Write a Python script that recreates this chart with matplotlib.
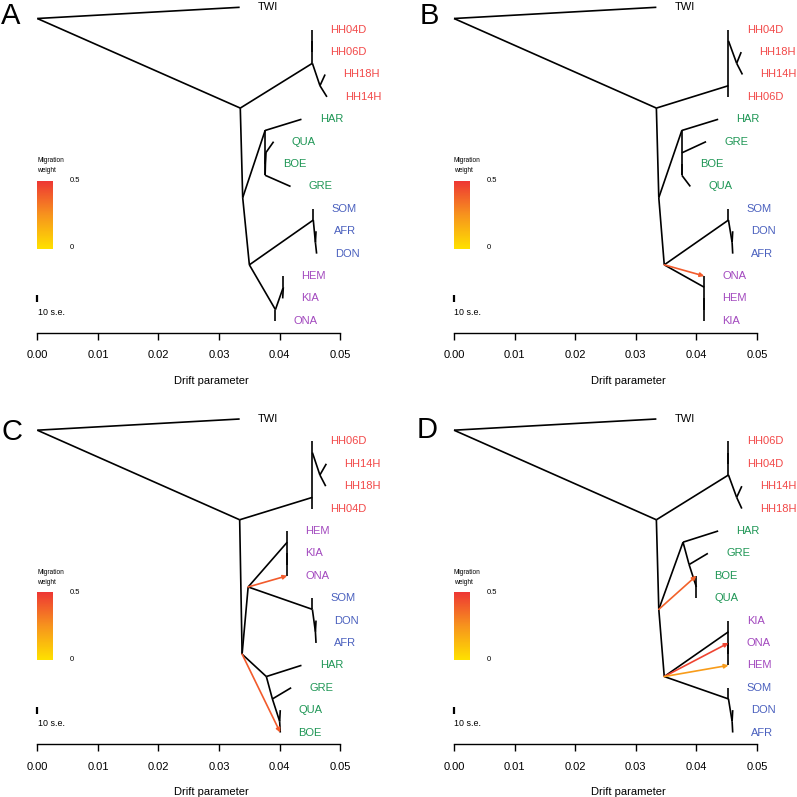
import numpy as np
import matplotlib.pyplot as plt
from matplotlib.colors import LinearSegmentedColormap

plt.rcParams['font.family'] = ['Liberation Sans', 'DejaVu Sans']

# leaf order, top to bottom
leaves_a = ['TWI', 'HH04D', 'HH06D', 'HH18H', 'HH14H', 'HAR', 'QUA', 'BOE', 'GRE',
            'SOM', 'AFR', 'DON', 'HEM', 'KIA', 'ONA']
leaves_b = ['TWI', 'HH04D', 'HH18H', 'HH14H', 'HH06D', 'HAR', 'GRE', 'BOE', 'QUA',
            'SOM', 'DON', 'AFR', 'ONA', 'HEM', 'KIA']
leaves_c = ['TWI', 'HH06D', 'HH14H', 'HH18H', 'HH04D', 'HEM', 'KIA', 'ONA', 'SOM',
            'DON', 'AFR', 'HAR', 'GRE', 'QUA', 'BOE']
leaves_d = ['TWI', 'HH06D', 'HH04D', 'HH14H', 'HH18H', 'HAR', 'GRE', 'BOE', 'QUA',
            'KIA', 'ONA', 'HEM', 'SOM', 'DON', 'AFR']

# (node, parent, drift from root)
tree_a = [('r', None, 0.0), ('TWI', 'r', 0.0334), ('n1', 'r', 0.0335),
          ('hh', 'n1', 0.0454), ('hha', 'hh', 0.0454), ('HH04D', 'hha', 0.0454),
          ('HH06D', 'hha', 0.0454), ('hhb', 'hh', 0.04665), ('HH18H', 'hhb', 0.0475),
          ('HH14H', 'hhb', 0.0478), ('n2', 'n1', 0.0339), ('g', 'n2', 0.0376),
          ('HAR', 'g', 0.0436), ('g2', 'g', 0.0376), ('g3', 'g2', 0.0377),
          ('QUA', 'g3', 0.0390), ('BOE', 'g3', 0.0376), ('GRE', 'g2', 0.0418),
          ('n3', 'n2', 0.0350), ('b', 'n3', 0.04555), ('SOM', 'b', 0.04555),
          ('b2', 'b', 0.0459), ('AFR', 'b2', 0.0460), ('DON', 'b2', 0.0461),
          ('p', 'n3', 0.0393), ('p2', 'p', 0.0406), ('HEM', 'p2', 0.0406),
          ('KIA', 'p2', 0.0405), ('ONA', 'p', 0.0393)]
tree_b = [('r', None, 0.0), ('TWI', 'r', 0.0334), ('n1', 'r', 0.0334),
          ('hh', 'n1', 0.0453), ('hha', 'hh', 0.0453), ('HH04D', 'hha', 0.0453),
          ('hhb', 'hha', 0.04665), ('HH18H', 'hhb', 0.0474), ('HH14H', 'hhb', 0.0476),
          ('HH06D', 'hh', 0.0453), ('n2', 'n1', 0.0338), ('g', 'n2', 0.0376),
          ('HAR', 'g', 0.0436), ('g2', 'g', 0.0376), ('GRE', 'g2', 0.0416),
          ('g3', 'g2', 0.0376), ('BOE', 'g3', 0.0376), ('QUA', 'g3', 0.0390),
          ('n3', 'n2', 0.0347), ('b', 'n3', 0.0453), ('SOM', 'b', 0.0453),
          ('b2', 'b', 0.0459), ('DON', 'b2', 0.0460), ('AFR', 'b2', 0.0460),
          ('p', 'n3', 0.0413), ('ONA', 'p', 0.0413), ('p2', 'p', 0.0413),
          ('HEM', 'p2', 0.0413), ('KIA', 'p2', 0.0413)]
tree_c = [('r', None, 0.0), ('TWI', 'r', 0.0334), ('n1', 'r', 0.0334),
          ('hh', 'n1', 0.0454), ('hha', 'hh', 0.0454), ('HH06D', 'hha', 0.0454),
          ('hhb', 'hha', 0.04664), ('HH14H', 'hhb', 0.0477), ('HH18H', 'hhb', 0.0476),
          ('HH04D', 'hh', 0.0454), ('n2', 'n1', 0.0338), ('n3', 'n2', 0.0348),
          ('p', 'n3', 0.04125), ('HEM', 'p', 0.04125), ('p2', 'p', 0.04125),
          ('KIA', 'p2', 0.04125), ('ONA', 'p2', 0.04125), ('b', 'n3', 0.0454),
          ('SOM', 'b', 0.0454), ('b2', 'b', 0.0459), ('DON', 'b2', 0.0460),
          ('AFR', 'b2', 0.0460), ('g', 'n2', 0.0378), ('HAR', 'g', 0.0436),
          ('g2', 'g', 0.0388), ('GRE', 'g2', 0.0419), ('g3', 'g2', 0.0400),
          ('QUA', 'g3', 0.0401), ('BOE', 'g3', 0.0401)]
tree_d = [('r', None, 0.0), ('TWI', 'r', 0.0334), ('n1', 'r', 0.0334),
          ('hh', 'n1', 0.0453), ('hha', 'hh', 0.0453), ('HH06D', 'hha', 0.0453),
          ('HH04D', 'hha', 0.0453), ('hhb', 'hh', 0.04665), ('HH14H', 'hhb', 0.0475),
          ('HH18H', 'hhb', 0.0475), ('n2', 'n1', 0.0338), ('g', 'n2', 0.0378),
          ('HAR', 'g', 0.0436), ('g2', 'g', 0.0388), ('GRE', 'g2', 0.0419),
          ('g3', 'g2', 0.0400), ('BOE', 'g3', 0.0400), ('QUA', 'g3', 0.0400),
          ('n3', 'n2', 0.0347), ('p', 'n3', 0.0453), ('KIA', 'p', 0.0453),
          ('p2', 'p', 0.0453), ('ONA', 'p2', 0.0453), ('HEM', 'p2', 0.0453),
          ('b', 'n3', 0.0453), ('SOM', 'b', 0.0453), ('b2', 'b', 0.0459),
          ('DON', 'b2', 0.0460), ('AFR', 'b2', 0.0460)]

# migration edges: (from, to, weight)
mig_a = []
mig_b = [('n3', 'ONA', 0.40)]
mig_c = [('n3', 'ONA', 0.40), ('n2', 'BOE', 0.40)]
mig_d = [('n2', 'BOE', 0.38), ('n3', 'ONA', 0.46), ('n3', 'HEM', 0.22)]

group_colors = {'HH': '#F24848', 'green': '#1E9655', 'blue': '#4A60BE', 'purple': '#A248BE'}
green = ['HAR', 'QUA', 'BOE', 'GRE']
blue = ['SOM', 'AFR', 'DON']
purple = ['HEM', 'KIA', 'ONA']

cmap = LinearSegmentedColormap.from_list('mig', ['#FFE100', '#F7931E', '#EE3535'])

W = 797.0


def label_color(name):
    if name.startswith('HH'):
        return group_colors['HH']
    if name in green:
        return group_colors['green']
    if name in blue:
        return group_colors['blue']
    if name in purple:
        return group_colors['purple']
    return 'black'


def layout(tree, leaves):
    x = {n: d for n, _, d in tree}
    kids = {}
    for n, p, _ in tree:
        if p is not None:
            kids.setdefault(p, []).append(n)
    span = {}

    def get_span(n):
        if n in leaves:
            i = leaves.index(n)
            span[n] = (i, i)
        else:
            s = [get_span(c) for c in kids[n]]
            span[n] = (min(a for a, _ in s), max(b for _, b in s))
        return span[n]

    get_span('r')
    y = {}
    for n in x:
        if n in leaves:
            y[n] = leaves.index(n)
        else:
            cs = sorted(kids[n], key=lambda c: span[c][0])
            y[n] = (span[cs[0]][1] + span[cs[1]][0]) / 2.0
    return x, y


def draw_panel(ox, oy, tree, leaves, migs, letter):
    ax = fig.add_axes([ox / W, 1 - (oy + 332.7) / W, 349 / W, 332.7 / W])
    ax.set_xlim(0, 0.0576)
    ax.set_ylim(14.53, -0.326)
    x, y = layout(tree, leaves)
    for n, p, _ in tree:
        if p is None:
            continue
        ax.plot([x[p], x[n]], [y[p], y[n]], color='black', lw=1.2,
                solid_capstyle='butt', clip_on=False)
    for n in leaves:
        ax.text(x[n] + 0.003, y[n], n, color=label_color(n), fontsize=8,
                ha='left', va='center', clip_on=False)
    for src, dst, w in migs:
        ax.annotate('', xy=(x[dst], y[dst]), xytext=(x[src], y[src]),
                    arrowprops=dict(arrowstyle='-|>', color=cmap(w / 0.5), lw=1.2,
                                    mutation_scale=6, shrinkA=0, shrinkB=0))

    for s in ['top', 'right', 'left']:
        ax.spines[s].set_visible(False)
    ax.spines['bottom'].set_bounds(0, 0.05)
    ax.spines['bottom'].set_linewidth(1.0)
    ticks = [0.0, 0.01, 0.02, 0.03, 0.04, 0.05]
    ax.set_xticks(ticks)
    ax.set_xticklabels(['%.2f' % t for t in ticks], fontsize=8)
    ax.tick_params(axis='x', length=4.8, width=1.0, pad=8)
    ax.set_yticks([])
    ax.set_xlabel('Drift parameter', fontsize=8, labelpad=11)

    # colour legend
    cax = ax.inset_axes([0.0, 0.2525, 0.0447, 0.2044])
    grad = np.linspace(1, 0, 100).reshape(-1, 1)
    cax.imshow(grad, cmap=cmap, aspect='auto')
    cax.axis('off')
    ax.text(0.0, 0.518, 'Migration', transform=ax.transAxes, fontsize=4.7,
            ha='left', va='center')
    ax.text(0.0, 0.487, 'weight', transform=ax.transAxes, fontsize=4.7,
            ha='left', va='center')
    ax.text(0.0937, 0.456, '0.5', transform=ax.transAxes, fontsize=5.5,
            ha='left', va='center')
    ax.text(0.0937, 0.2546, '0', transform=ax.transAxes, fontsize=5.5,
            ha='left', va='center')

    # scale bar
    ax.plot([0.0, 0.0], [0.0914, 0.1133], transform=ax.transAxes, color='black',
            lw=1.6, solid_capstyle='butt', clip_on=False)
    ax.text(0.001, 0.0622, '10 s.e.', transform=ax.transAxes, fontsize=6.4,
            ha='left', va='center')

    fig.text(letter[1] / W, 1 - letter[2] / W, letter[0], fontsize=21,
             ha='center', va='baseline')


fig = plt.figure(figsize=(7.97, 7.97), dpi=100)
draw_panel(37.3, 0.0, tree_a, leaves_a, mig_a, ('A', 11, 23.5))
draw_panel(454.0, 0.0, tree_b, leaves_b, mig_b, ('B', 429.5, 24))
draw_panel(37.3, 411.7, tree_c, leaves_c, mig_c, ('C', 12, 439.5))
draw_panel(454.0, 411.7, tree_d, leaves_d, mig_d, ('D', 427.5, 438.5))
fig.savefig('out.png', dpi=100)
